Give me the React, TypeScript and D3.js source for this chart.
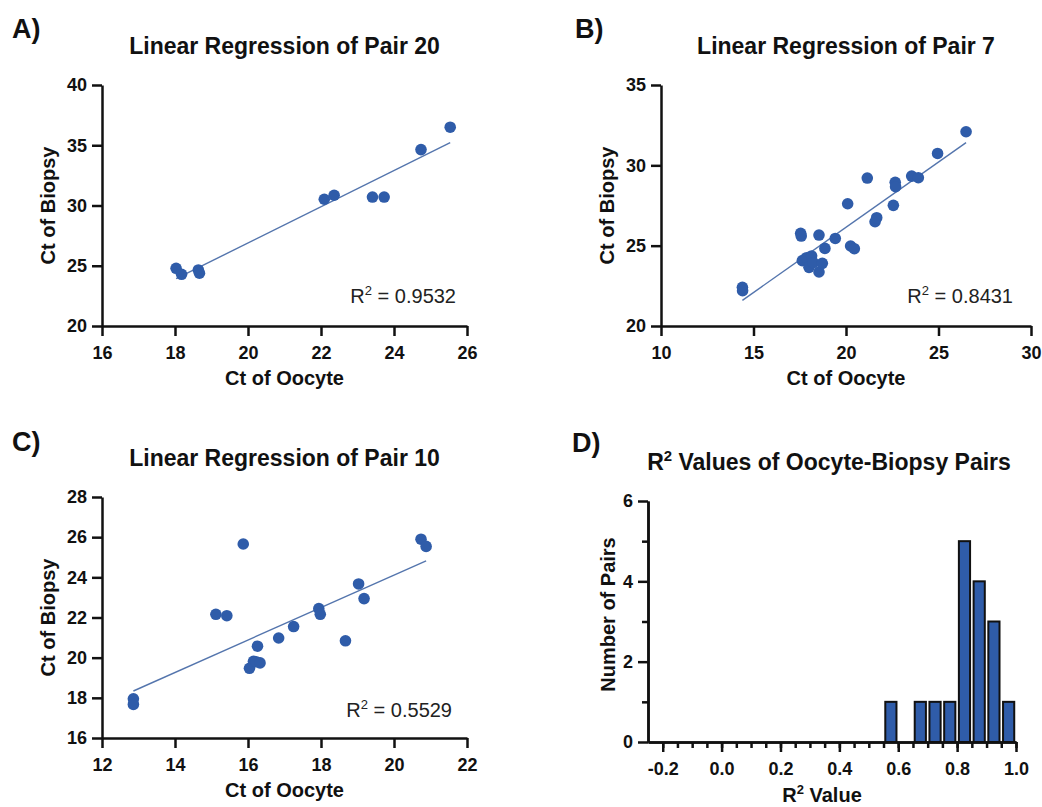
import React, { useEffect, useRef } from 'react';
import * as d3 from 'd3';

const FONT = '"Liberation Sans", Arial, Helvetica, sans-serif';
const INK = '#111';
const DOT = '#2F5CA9';
const FIT = '#5475AD';

// A) pair 20
const pair20Oocyte = [18.03, 18.18, 18.64, 18.67, 22.09, 22.36, 23.41, 23.73, 24.74, 25.54];
const pair20Biopsy = [24.79, 24.29, 24.65, 24.38, 30.52, 30.85, 30.7, 30.7, 34.64, 36.5];
const pair20XTicks = [16, 18, 20, 22, 24, 26];
const pair20YTicks = [20, 25, 30, 35, 40];

// B) pair 7
const pair7Oocyte = [14.4, 14.41, 17.55, 17.58, 17.64, 17.87, 18.14, 18.0, 18.23, 18.54, 18.72, 18.54, 18.86, 19.42,
  20.09, 20.25, 20.45, 21.15, 21.57, 21.66, 22.56, 22.66, 22.68, 23.55, 23.91, 24.95, 26.49];
const pair7Biopsy = [22.41, 22.2, 25.77, 25.6, 24.07, 24.25, 24.36, 23.65, 23.94, 23.36, 23.9, 25.66, 24.83, 25.45,
  27.61, 24.98, 24.81, 29.21, 26.49, 26.74, 27.51, 28.94, 28.67, 29.33, 29.23, 30.74, 32.09];
const pair7XTicks = [10, 15, 20, 25, 30];
const pair7YTicks = [20, 25, 30, 35];

// C) pair 10
const pair10Oocyte = [12.86, 12.86, 15.87, 15.12, 15.42, 16.04, 16.15, 16.22, 16.33, 16.26, 16.84, 17.25, 17.94, 17.98,
  18.67, 19.03, 19.18, 20.74, 20.88];
const pair10Biopsy = [17.95, 17.67, 25.66, 22.16, 22.09, 19.47, 19.82, 19.8, 19.74, 20.57, 20.98, 21.55, 22.44, 22.16,
  20.84, 23.67, 22.94, 25.9, 25.54];
const pair10XTicks = [12, 14, 16, 18, 20, 22];
const pair10YTicks = [16, 18, 20, 22, 24, 26, 28];

// D) histogram of R2 values (bin centres, width 0.05)
const r2BinCenters = [0.575, 0.675, 0.725, 0.775, 0.825, 0.875, 0.925, 0.975];
const r2Counts = [1, 1, 1, 1, 5, 4, 3, 1];
const r2XTicks = [-0.2, 0, 0.2, 0.4, 0.6, 0.8, 1.0];
const r2XMinor = d3.range(-4, 21).map((i) => i * 0.05);
const r2YTicks = [0, 2, 4, 6];
const r2YMinor = [1, 3, 5];

const intFmt = d3.format('d');

const Axis = ({ scale, side, x = 0, y = 0, ticks, size = 10, fmt = intFmt, labels = true }) => {
  const ref = useRef(null);
  useEffect(() => {
    const ax = side === 'bottom' ? d3.axisBottom(scale) : d3.axisLeft(scale);
    ax.tickValues(ticks).tickSize(size).tickSizeOuter(0).tickPadding(side === 'bottom' ? 10 : 5);
    ax.tickFormat(labels ? fmt : () => '');
    const g = d3.select(ref.current);
    g.call(ax);
    g.selectAll('path, line').attr('stroke', INK).attr('stroke-width', 2.5);
    g.selectAll('text')
      .attr('font-family', FONT)
      .attr('font-size', 18)
      .attr('font-weight', 'bold')
      .attr('fill', INK);
  }, [scale, side, ticks, size, fmt, labels]);
  return <g ref={ref} transform={`translate(${x},${y})`} />;
};

const Sup = ({ pre, post, size, shift }) => (
  <>
    <tspan>{pre}</tspan>
    <tspan dy={-shift} fontSize={size * 0.65}>2</tspan>
    <tspan dy={shift}>{post}</tspan>
  </>
);

const Scatter = ({ xs, ys, xDomain, yDomain, xTicks, yTicks, box, title, letter, r2, r2Pos }) => {
  const [left, top, right, bottom] = box;
  const x = d3.scaleLinear().domain(xDomain).range([left, right]);
  const y = d3.scaleLinear().domain(yDomain).range([bottom, top]);
  const mx = d3.mean(xs), my = d3.mean(ys);
  const slope = d3.sum(xs, (v, i) => (v - mx) * (ys[i] - my)) / d3.sum(xs, (v) => (v - mx) ** 2);
  const fit = (v) => my + slope * (v - mx);
  const [x0, x1] = d3.extent(xs);
  const cx = (left + right) / 2;
  const cy = (top + bottom) / 2;
  return (
    <g>
      <text x={letter[1]} y={letter[2]} fontFamily={FONT} fontSize={27} fontWeight="bold" fill={INK}>{letter[0]}</text>
      <text x={cx} y={top - 31} textAnchor="middle" fontFamily={FONT} fontSize={23} fontWeight="bold" fill={INK}>{title}</text>
      <line x1={x(x0)} y1={y(fit(x0))} x2={x(x1)} y2={y(fit(x1))} stroke={FIT} strokeWidth={1.4} />
      {xs.map((v, i) => (
        <circle key={i} cx={x(v)} cy={y(ys[i])} r={5.8} fill={DOT} />
      ))}
      <Axis scale={x} side="bottom" y={bottom} ticks={xTicks} />
      <Axis scale={y} side="left" x={left} ticks={yTicks} />
      <text x={cx} y={bottom + 59} textAnchor="middle" fontFamily={FONT} fontSize={20} fontWeight="bold" fill={INK}>Ct of Oocyte</text>
      <text transform={`translate(${left - 47},${cy}) rotate(-90)`} textAnchor="middle" fontFamily={FONT} fontSize={20} fontWeight="bold" fill={INK}>Ct of Biopsy</text>
      <text x={r2Pos[0]} y={r2Pos[1]} textAnchor="end" fontFamily={FONT} fontSize={20} fill="#222">
        <Sup pre="R" post={` = ${r2}`} size={20} shift={8} />
      </text>
    </g>
  );
};

const Histogram = ({ box }) => {
  const [left, top, right, bottom] = box;
  const x = d3.scaleLinear().domain([-0.25, 1.0]).range([left, right]);
  const y = d3.scaleLinear().domain([0, 6]).range([bottom, top]);
  const half = 0.019;
  const fmt = (d) => d.toFixed(1);
  return (
    <g>
      <text x={572} y={452} fontFamily={FONT} fontSize={27} fontWeight="bold" fill={INK}>D)</text>
      <text x={(left + right) / 2 - 3} y={top - 31} textAnchor="middle" fontFamily={FONT} fontSize={23} fontWeight="bold" fill={INK}>
        <Sup pre="R" post=" Values of Oocyte-Biopsy Pairs" size={23} shift={9} />
      </text>
      {r2BinCenters.map((c, i) => (
        <rect key={i} x={x(c - half)} y={y(r2Counts[i])} width={x(c + half) - x(c - half)} height={y(0) - y(r2Counts[i])}
          fill={DOT} stroke={INK} strokeWidth={2} />
      ))}
      <Axis scale={x} side="bottom" y={bottom} ticks={r2XMinor} size={6} labels={false} />
      <Axis scale={x} side="bottom" y={bottom} ticks={r2XTicks} size={10} fmt={fmt} />
      <Axis scale={y} side="left" x={left} ticks={r2YMinor} size={6} labels={false} />
      <Axis scale={y} side="left" x={left} ticks={r2YTicks} size={10} />
      <text x={(left + right) / 2 - 10} y={802} textAnchor="middle" fontFamily={FONT} fontSize={20} fontWeight="bold" fill={INK}>
        <Sup pre="R" post=" Value" size={20} shift={8} />
      </text>
      <text transform={`translate(${left - 33},${(top + bottom) / 2 - 7}) rotate(-90)`} textAnchor="middle" fontFamily={FONT} fontSize={20} fontWeight="bold" fill={INK}>Number of Pairs</text>
    </g>
  );
};

export default function App() {
  return (
    <svg width={1042} height={807} style={{ position: 'absolute', left: 0, top: 0, background: '#fff' }}>
      <Scatter xs={pair20Oocyte} ys={pair20Biopsy} xDomain={[16, 26]} yDomain={[20, 40]} xTicks={pair20XTicks} yTicks={pair20YTicks}
        box={[102, 85, 467, 326]} title="Linear Regression of Pair 20" letter={['A)', 12, 38]} r2="0.9532" r2Pos={[456, 303]} />
      <Scatter xs={pair7Oocyte} ys={pair7Biopsy} xDomain={[10, 30]} yDomain={[20, 35]} xTicks={pair7XTicks} yTicks={pair7YTicks}
        box={[661, 85, 1031, 326]} title="Linear Regression of Pair 7" letter={['B)', 575, 38]} r2="0.8431" r2Pos={[1013, 303]} />
      <Scatter xs={pair10Oocyte} ys={pair10Biopsy} xDomain={[12, 22]} yDomain={[16, 28]} xTicks={pair10XTicks} yTicks={pair10YTicks}
        box={[102, 497, 467, 738]} title="Linear Regression of Pair 10" letter={['C)', 12, 451]} r2="0.5529" r2Pos={[452, 717]} />
      <Histogram box={[648, 501, 1016, 742]} />
    </svg>
  );
}
